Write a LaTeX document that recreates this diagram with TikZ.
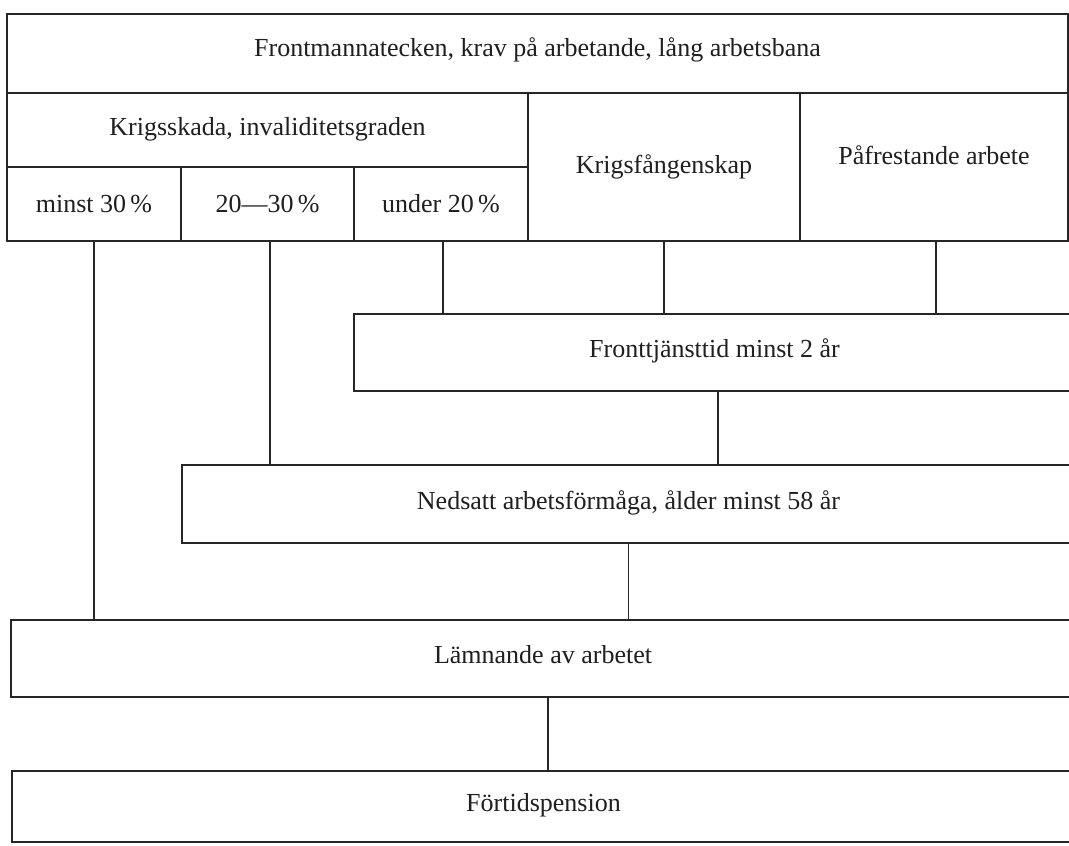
\documentclass[tikz,border=0pt]{standalone}
\usepackage{fontspec}
\setmainfont{Liberation Serif}
\begin{document}
\begin{tikzpicture}[x=1pt,y=-1pt,
  box/.style={draw=black!85, line width=1.2pt, inner sep=0pt, align=center,
    text=black!88, font=\fontsize{26}{30}\selectfont},
  conn/.style={draw=black!85, line width=1.2pt}]
\useasboundingbox[fill=white] (0,0) rectangle (1069,846);
\node[box, minimum width=1061pt, minimum height=79pt, text depth=12pt] (top) at (537.5,53.5) {Frontmannatecken, krav på arbetande, lång arbetsbana};
\node[box, minimum width=521pt, minimum height=74pt, text depth=8pt] (krig) at (267.5,130) {Krigsskada, invaliditetsgraden};
\node[box, minimum width=174pt, minimum height=74pt] (minst) at (94,204) {minst 30\,\%};
\node[box, minimum width=173pt, minimum height=74pt] (mid) at (267.5,204) {20—30\,\%};
\node[box, minimum width=174pt, minimum height=74pt] (under) at (441,204) {under 20\,\%};
\node[box, minimum width=272pt, minimum height=148pt] (fang) at (664,167) {Krigsfångenskap};
\node[box, minimum width=268pt, minimum height=148pt, text depth=24pt] (pafr) at (934,167) {Påfrestande arbete};
\node[box, minimum width=721pt, minimum height=77pt, text depth=8pt] (front) at (714.5,352.5) {Fronttjänsttid minst 2 år};
\node[box, minimum width=893pt, minimum height=78pt, text depth=8pt] (ned) at (628.5,504) {Nedsatt arbetsförmåga, ålder minst 58 år};
\node[box, minimum width=1064pt, minimum height=77pt, text depth=8pt] (lamn) at (543,658.5) {Lämnande av arbetet};
\node[box, minimum width=1063pt, minimum height=71pt, text depth=8pt] (fort) at (543.5,806.5) {Förtidspension};
\draw[conn] (minst.south) -- (minst.south |- lamn.north);
\draw[conn] ([xshift=2.5pt]mid.south) -- ([xshift=2.5pt]mid.south |- ned.north);
\draw[conn] ([xshift=2pt]under.south) -- ([xshift=2pt]under.south |- front.north);
\draw[conn] (fang.south) -- (fang.south |- front.north);
\draw[conn] ([xshift=2pt]pafr.south) -- ([xshift=2pt]pafr.south |- front.north);
\draw[conn] ([xshift=3.5pt]front.south) -- ([xshift=3.5pt]front.south |- ned.north);
\draw[conn] (ned.south) -- (ned.south |- lamn.north);
\draw[conn] ([xshift=5pt]lamn.south) -- ([xshift=5pt]lamn.south |- fort.north);
\end{tikzpicture}
\end{document}
